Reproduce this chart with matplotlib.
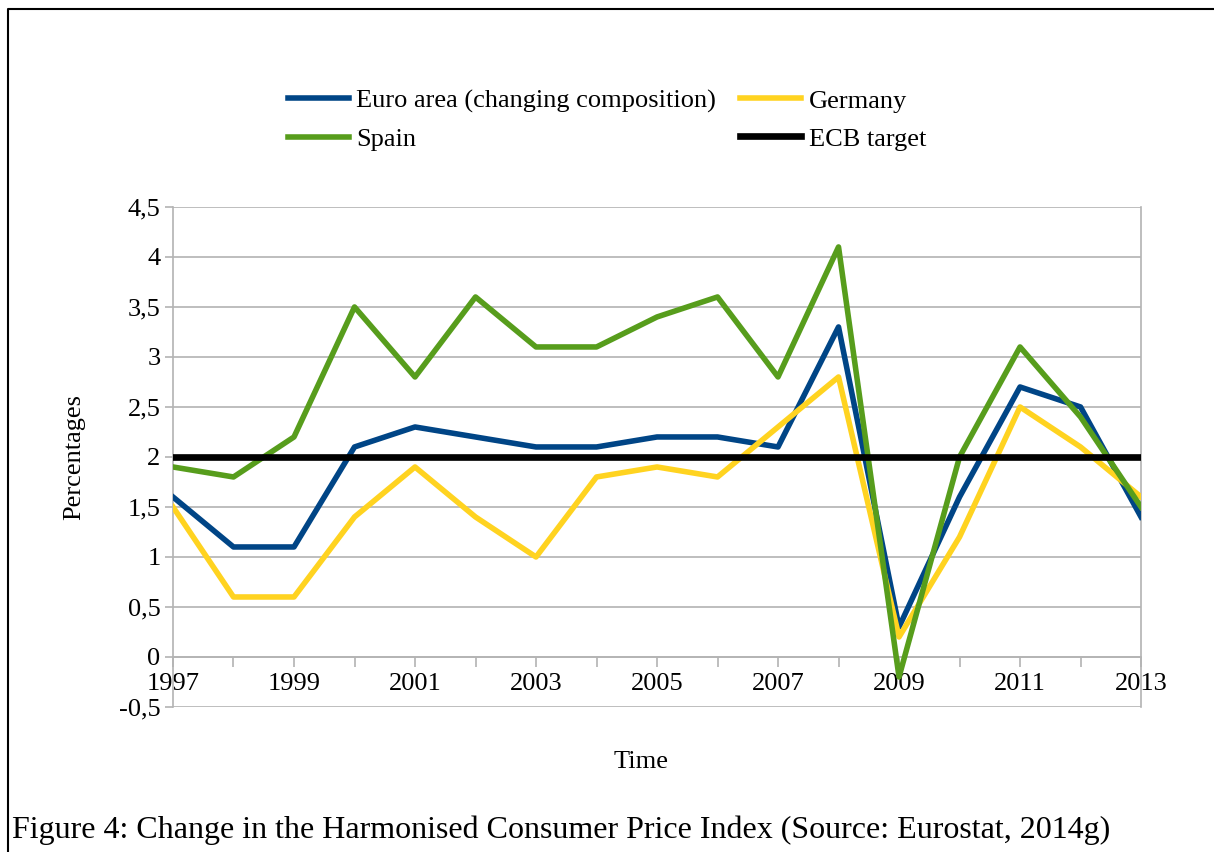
import matplotlib
matplotlib.use("Agg")
import matplotlib.pyplot as plt
from matplotlib.lines import Line2D

# data
years = list(range(1997, 2014))
euro_area = [1.6, 1.1, 1.1, 2.1, 2.3, 2.2, 2.1, 2.1, 2.2, 2.2, 2.1, 3.3, 0.3, 1.6, 2.7, 2.5, 1.4]
germany = [1.5, 0.6, 0.6, 1.4, 1.9, 1.4, 1.0, 1.8, 1.9, 1.8, 2.3, 2.8, 0.2, 1.2, 2.5, 2.1, 1.6]
spain = [1.9, 1.8, 2.2, 3.5, 2.8, 3.6, 3.1, 3.1, 3.4, 3.6, 2.8, 4.1, -0.2, 2.0, 3.1, 2.4, 1.5]
ecb_target = [2.0] * len(years)

y_ticks = [-0.5, 0, 0.5, 1, 1.5, 2, 2.5, 3, 3.5, 4, 4.5]
y_labels = ["-0,5", "0", "0,5", "1", "1,5", "2", "2,5", "3", "3,5", "4", "4,5"]
x_labels = [str(y) if y % 2 == 1 else "" for y in years]

plt.rcParams["font.family"] = ["Liberation Serif", "DejaVu Serif"]
grey = "#b3b3b3"

fig = plt.figure(figsize=(12.14, 8.52), dpi=100)
ax = fig.add_axes([0.1425, 0.1702, 0.7974, 0.5869])

l_euro, = ax.plot(years, euro_area, color="#004586", lw=4.0, label="Euro area (changing composition)", zorder=3)
l_ger, = ax.plot(years, germany, color="#ffd320", lw=4.0, label="Germany", zorder=3)
l_spa, = ax.plot(years, spain, color="#579d1c", lw=4.0, label="Spain", zorder=4)
l_ecb, = ax.plot(years, ecb_target, color="black", lw=4.8, label="ECB target", zorder=5)

ax.set_xlim(1997, 2013)
ax.set_ylim(-0.5, 4.5)
ax.set_yticks(y_ticks)
ax.set_yticklabels(y_labels)
ax.set_xticks(years)
ax.set_xticklabels(x_labels)

ax.grid(axis="y", color=grey, lw=1.2)
ax.set_axisbelow(True)
ax.spines["bottom"].set_position(("data", 0))
for s in ["bottom", "left", "right"]:
    ax.spines[s].set_color(grey)
    ax.spines[s].set_linewidth(1.2)
ax.spines["top"].set_visible(False)
ax.tick_params(axis="x", length=7.5, width=1.2, color=grey, pad=4, labelsize=19)
ax.tick_params(axis="y", length=6, width=1.2, color=grey, pad=3, labelsize=19)

ax.set_ylabel("Percentages", fontsize=19, labelpad=24)
fig.text(641 / 1214, 1 - 762 / 852, "Time", fontsize=19, ha="center", va="center")

# legend fills column by column, so order handles to read row-wise
handles = [l_euro, l_spa, l_ger, l_ecb]
fig.legend(handles=handles, labels=[h.get_label() for h in handles],
           loc="center", bbox_to_anchor=(0.5, 1 - 120 / 852), ncol=2, frameon=False,
           fontsize=19, handlelength=2.3, handletextpad=0.3, columnspacing=0.9,
           labelspacing=0.55)

fig.text(12 / 1214, 1 - 830 / 852,
         "Figure 4: Change in the Harmonised Consumer Price Index (Source: Eurostat, 2014g)",
         fontsize=23, ha="left", va="center")

# frame lines round the figure
x0 = 8 / 1214
y0 = 1 - 9 / 852
fig.add_artist(Line2D([x0, x0, 1], [0, y0, y0], color="black", lw=1.5, transform=fig.transFigure))

fig.savefig("out.png", dpi=100)
